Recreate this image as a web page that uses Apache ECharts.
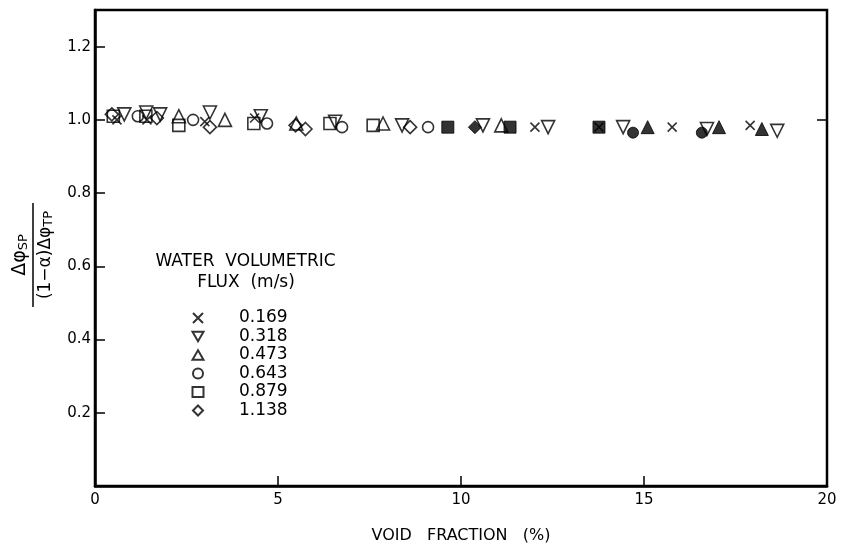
<!DOCTYPE html>
<html>
<head>
<meta charset="utf-8">
<script src="https://cdn.jsdelivr.net/npm/echarts@6/dist/echarts.min.js"></script>
<style>html,body{margin:0;padding:0;background:#fff}#c{width:842px;height:549px}</style>
</head>
<body>
<div id="c"></div>
<script>
// ---- data ----
const xTicks = [0, 5, 10, 15, 20];
const yTicks = [0.2, 0.4, 0.6, 0.8, 1.0, 1.2];
const fluxNames = ['0.169', '0.318', '0.473', '0.643', '0.879', '1.138'];
const s0169 = [[0.6,1.0],[1.42,1.0],[3.0,0.995],[4.36,1.005],[12.02,0.98],[13.77,0.98],[15.77,0.98],[17.9,0.985]];
const s0318 = [[0.8,1.015],[1.4,1.02],[1.78,1.015],[3.14,1.02],[4.53,1.01],[6.56,0.995],[8.39,0.985],[10.6,0.985],[12.38,0.98],[14.43,0.98],[16.72,0.975],[18.64,0.97]];
const s0473 = [[2.29,1.01],[3.55,1.0],[5.5,0.99],[7.87,0.99],[11.1,0.985]];
const s0643 = [[1.17,1.01],[2.68,1.0],[4.7,0.99],[6.75,0.98],[9.1,0.98]];
const s0879 = [[0.5,1.01],[1.39,1.01],[2.29,0.985],[4.34,0.99],[6.42,0.99],[7.6,0.985]];
const s1138 = [[0.46,1.015],[1.69,1.005],[3.14,0.98],[5.48,0.985],[5.75,0.975],[8.61,0.98]];
const filledSquare = [[9.64,0.98],[11.34,0.98],[13.77,0.98]];
const filledDiamond = [[10.38,0.98]];
const filledCircle = [[14.7,0.965],[16.58,0.965]];
const filledTriangle = [[15.1,0.98],[17.05,0.98],[18.22,0.975]];

const FONT = 'DejaVu Sans';
const X_PATH = 'path://M0,0L10,10M10,0L0,10';
const TDOWN = 'path://M0,0L12,0L6,10.4Z';
const TUP = 'path://M6,0L12,10.4L0,10.4Z';
const DIAM = 'path://M6,0L12,6L6,12L0,6Z';

function open(name, data, symbol, size) {
  return {
    name, type: 'scatter', data, symbol, symbolSize: size,
    itemStyle: { color: 'rgba(0,0,0,0)', borderColor: '#000', borderWidth: 1.6 }
  };
}
function filled(name, data, symbol, size) {
  return {
    name, type: 'scatter', data, symbol, symbolSize: size,
    itemStyle: { color: '#000', borderColor: '#000', borderWidth: 1 }
  };
}

const chart = echarts.init(document.getElementById('c'), null, { renderer: 'canvas' });
chart.setOption({
  backgroundColor: '#fff',
  animation: false,
  textStyle: { fontFamily: FONT, color: '#000' },
  grid: { left: 95, right: 15, top: 10, bottom: 63, show: true, borderColor: '#000', borderWidth: 2.5, backgroundColor: 'transparent' },
  xAxis: {
    type: 'value', min: xTicks[0], max: xTicks[xTicks.length - 1], interval: 5,
    name: 'VOID   FRACTION   (%)', nameLocation: 'middle', nameGap: 42,
    nameTextStyle: { fontFamily: FONT, fontSize: 16, color: '#000' },
    axisLine: { show: true, lineStyle: { color: '#000', width: 2.5 } },
    axisTick: { show: true, inside: true, length: 10, lineStyle: { color: '#000', width: 1.5 } },
    axisLabel: { fontFamily: FONT, fontSize: 15, color: '#000', margin: 7 },
    splitLine: { show: false }
  },
  yAxis: [{
    type: 'value', min: 0, max: 1.3, interval: 0.2,
    axisLine: { show: true, lineStyle: { color: '#000', width: 2.5 } },
    axisTick: { show: true, inside: true, length: 10, lineStyle: { color: '#000', width: 1.5 } },
    axisLabel: {
      fontFamily: FONT, fontSize: 15, color: '#000', margin: 4,
      formatter: v => (yTicks.some(t => Math.abs(t - v) < 1e-6) ? v.toFixed(1) : '')
    },
    splitLine: { show: false }
  }, {
    type: 'value', min: 0, max: 1.3, position: 'right',
    axisLine: { show: false },
    axisTick: { show: true, inside: true, length: 10, customValues: [1.0], lineStyle: { color: '#000', width: 1.5 } },
    axisLabel: { show: false },
    splitLine: { show: false }
  }],
  legend: {
    orient: 'vertical', left: 186.5, top: 304.5,
    itemWidth: 11, itemHeight: 10, itemGap: 1.5,
    data: fluxNames,
    textStyle: { fontFamily: FONT, fontSize: 17, color: '#000', padding: [0, 0, 0, 30.5] },
    selectedMode: false
  },
  graphic: [
    { type: 'text', x: 245.5, y: 253.5, style: { text: 'WATER  VOLUMETRIC', font: '17px "DejaVu Sans"', fill: '#000', textAlign: 'center' } },
    { type: 'text', x: 246, y: 274.5, style: { text: 'FLUX  (m/s)', font: '17px "DejaVu Sans"', fill: '#000', textAlign: 'center' } },
    {
      type: 'group', x: 33, y: 255, rotation: Math.PI / 2,
      children: [
        { type: 'line', shape: { x1: -52, y1: 0, x2: 52, y2: 0 }, style: { stroke: '#000', lineWidth: 1.5 } },
        { type: 'text', x: 0, y: -3, style: {
          text: '{a|Δφ}{s|SP}', textAlign: 'center', textVerticalAlign: 'bottom',
          rich: { a: { fontFamily: FONT, fontSize: 19, fill: '#000' }, s: { fontFamily: FONT, fontSize: 13, fill: '#000', verticalAlign: 'bottom', padding: [6, 0, 0, 0] } }
        } },
        { type: 'text', x: 0, y: 3, style: {
          text: '{a|(1−α)Δφ}{s|TP}', textAlign: 'center', textVerticalAlign: 'top',
          rich: { a: { fontFamily: FONT, fontSize: 17, fill: '#000' }, s: { fontFamily: FONT, fontSize: 13, fill: '#000', verticalAlign: 'bottom', padding: [6, 0, 0, 0] } }
        } }
      ]
    }
  ],
  series: [
    open(fluxNames[0], s0169, X_PATH, 9),
    open(fluxNames[1], s0318, TDOWN, 13),
    open(fluxNames[2], s0473, TUP, 13),
    open(fluxNames[3], s0643, 'circle', 11),
    open(fluxNames[4], s0879, 'rect', 12),
    open(fluxNames[5], s1138, DIAM, 13),
    filled('filled square', filledSquare, 'rect', 12),
    filled('filled diamond', filledDiamond, DIAM, 13),
    filled('filled circle', filledCircle, 'circle', 11),
    filled('filled triangle', filledTriangle, TUP, 13)
  ]
});
</script>
</body>
</html>
